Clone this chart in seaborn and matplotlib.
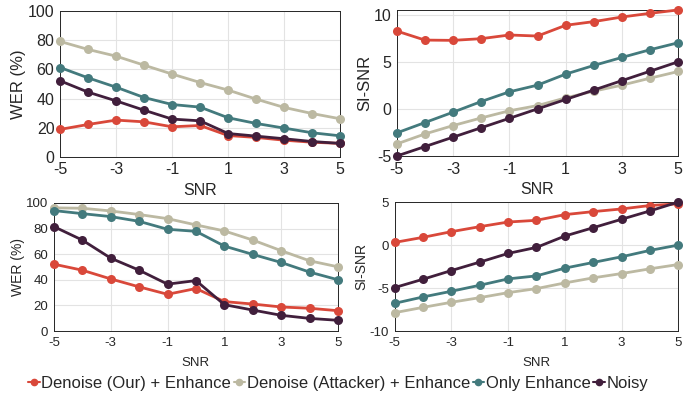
import numpy as np
import pandas as pd
import matplotlib
matplotlib.use("Agg")
import matplotlib.pyplot as plt
import seaborn as sns

snr = [-5, -4, -3, -2, -1, 0, 1, 2, 3, 4, 5]
methods = ["Denoise (Our) + Enhance", "Denoise (Attacker) + Enhance", "Only Enhance", "Noisy"]
colors = ["#d9483a", "#bcb9a2", "#437a7d", "#411f3c"]

# top row
wer_top_our = [18.8, 22.2, 25.2, 24.0, 20.6, 21.5, 14.6, 13.3, 11.4, 10.0, 9.2]
wer_top_att = [79.2, 73.7, 69.1, 62.9, 56.8, 51.0, 45.8, 39.6, 33.9, 29.7, 26.1]
wer_top_enh = [61.3, 54.2, 47.8, 40.7, 35.9, 34.1, 26.8, 22.9, 19.7, 16.5, 14.4]
wer_top_noisy = [52.2, 44.4, 38.4, 32.0, 25.9, 24.7, 16.0, 14.2, 12.4, 10.5, 9.2]

sisnr_top_our = [8.26, 7.3, 7.27, 7.45, 7.84, 7.73, 8.87, 9.26, 9.75, 10.14, 10.5]
sisnr_top_att = [-3.72, -2.66, -1.77, -0.96, -0.2, 0.35, 1.17, 1.88, 2.52, 3.26, 3.97]
sisnr_top_enh = [-2.55, -1.45, -0.35, 0.78, 1.81, 2.52, 3.69, 4.61, 5.46, 6.28, 7.02]
sisnr_top_noisy = [-5, -4, -3, -2, -1, 0, 1, 2, 3, 4, 5]

# bottom row
wer_bot_our = [52.2, 47.5, 40.7, 34.5, 28.7, 33.2, 23.0, 21.1, 18.8, 17.8, 15.9]
wer_bot_att = [96.1, 95.8, 93.7, 90.9, 87.7, 82.8, 78.1, 71.0, 62.7, 54.8, 50.1]
wer_bot_enh = [94.0, 91.6, 89.3, 85.6, 79.4, 77.8, 66.3, 59.8, 53.5, 46.0, 40.0]
wer_bot_noisy = [81.5, 71.0, 56.9, 47.5, 36.6, 39.4, 20.6, 16.4, 12.3, 9.9, 8.4]

sisnr_bot_our = [0.31, 0.9, 1.56, 2.14, 2.68, 2.88, 3.54, 3.89, 4.2, 4.6, 4.8]
sisnr_bot_att = [-7.86, -7.24, -6.65, -6.11, -5.53, -5.06, -4.4, -3.81, -3.31, -2.76, -2.26]
sisnr_bot_enh = [-6.77, -6.03, -5.37, -4.67, -3.93, -3.58, -2.68, -2.02, -1.36, -0.62, 0.0]
sisnr_bot_noisy = [-4.94, -3.97, -2.96, -1.98, -0.97, -0.27, 1.05, 2.02, 3.0, 3.97, 5.0]


def to_df(series):
    rows = []
    for m, vals in zip(methods, series):
        for x, v in zip(snr, vals):
            rows.append({"SNR": x, "value": v, "method": m})
    return pd.DataFrame(rows)


sns.set_style("white")
plt.rcParams["font.family"] = ["Liberation Sans", "DejaVu Sans"]
plt.rcParams["axes.unicode_minus"] = False
plt.rcParams["xtick.direction"] = "in"
plt.rcParams["ytick.direction"] = "in"

fig = plt.figure(figsize=(6.9, 3.97), dpi=100)
panels = [
    ([0.087, 0.605, 0.406, 0.367], [wer_top_our, wer_top_att, wer_top_enh, wer_top_noisy],
     "WER (%)", (0, 100), [0, 20, 40, 60, 80, 100], 11.5, 4),
    ([0.575, 0.607, 0.408, 0.368], [sisnr_top_our, sisnr_top_att, sisnr_top_enh, sisnr_top_noisy],
     "SI-SNR", (-5, 10.5), [-5, 0, 5, 10], 11.5, 4),
    ([0.078, 0.166, 0.412, 0.323], [wer_bot_our, wer_bot_att, wer_bot_enh, wer_bot_noisy],
     "WER (%)", (0, 100), [0, 20, 40, 60, 80, 100], 9.5, 6),
    ([0.572, 0.166, 0.411, 0.325], [sisnr_bot_our, sisnr_bot_att, sisnr_bot_enh, sisnr_bot_noisy],
     "SI-SNR", (-10, 5), [-10, -5, 0, 5], 9.5, 6),
]

for rect, series, ylab, ylim, yticks, fs, xpad in panels:
    ax = fig.add_axes(rect)
    df = to_df(series)
    sns.lineplot(data=df, x="SNR", y="value", hue="method", palette=colors,
                 marker="o", markersize=6.5, markeredgewidth=0, linewidth=2,
                 ax=ax, legend=False, clip_on=False, zorder=3)
    ax.set_xlim(-5, 5)
    ax.set_ylim(*ylim)
    ax.set_xticks([-5, -3, -1, 1, 3, 5])
    ax.set_yticks(yticks)
    ax.grid(True, color="#e3e3e3", linewidth=0.8)
    ax.set_axisbelow(True)
    for s in ax.spines.values():
        s.set_color("#262626")
        s.set_linewidth(0.7)
    ax.tick_params(labelsize=fs, colors="#262626", length=3, width=0.6, pad=4)
    ax.set_xlabel("SNR", fontsize=fs, color="#262626", labelpad=xpad)
    ax.set_ylabel(ylab, fontsize=fs + 0.5, color="#262626", labelpad=1)

handles = [plt.Line2D([], [], color=c, marker="o", markersize=4.5, linewidth=1.5)
           for c in colors]
fig.legend(handles, methods, loc="center", bbox_to_anchor=(0.49, 0.035), ncol=4,
           frameon=False, fontsize=12, handlelength=0.7, handletextpad=0.1,
           columnspacing=0.15, borderpad=0)

fig.savefig("out.png", dpi=100)
